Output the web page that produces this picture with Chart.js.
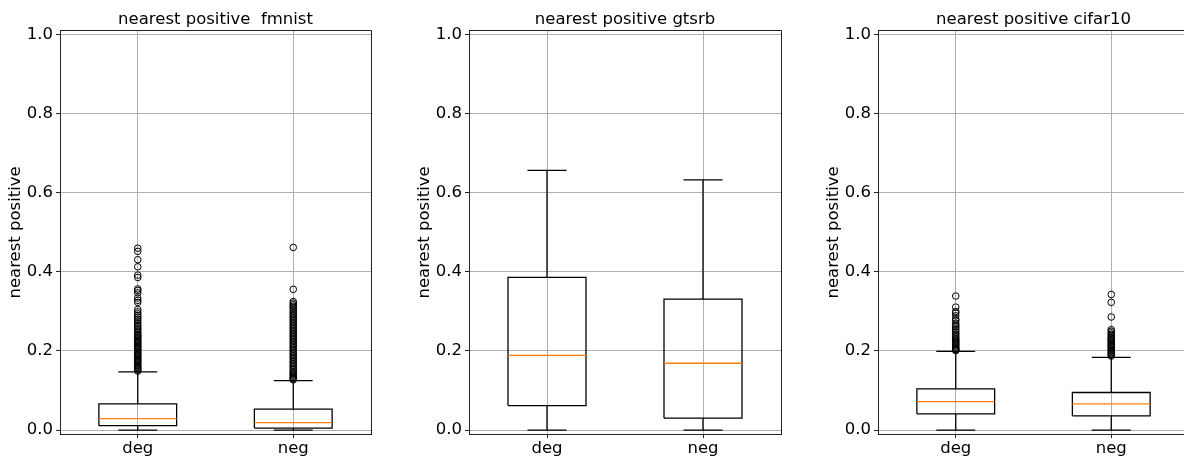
<!DOCTYPE html>
<html>
<head>
<meta charset="utf-8">
<script src="https://cdn.jsdelivr.net/npm/chart.js@4/dist/chart.umd.min.js"></script>
<style>
  html, body { margin:0; padding:0; background:#fff; width:1184px; height:457px; overflow:hidden; }
  canvas { position:absolute; top:0; }
</style>
</head>
<body>
<canvas id="c0" width="376" height="457" style="left:0px"></canvas>
<canvas id="c1" width="376" height="457" style="left:409px"></canvas>
<canvas id="c2" width="376" height="457" style="left:818px"></canvas>
<script>
// ---------- data ----------
const categories = ['deg', 'neg'];
const panelTitles = ['nearest positive  fmnist', 'nearest positive gtsrb', 'nearest positive cifar10'];
const yAxisLabel = 'nearest positive';
const yTicks = [0.0, 0.2, 0.4, 0.6, 0.8, 1.0];

// fmnist  [deg, neg]
const fmnistLow    = [0.000, 0.000];
const fmnistQ1     = [0.011, 0.005];
const fmnistMedian = [0.029, 0.019];
const fmnistQ3     = [0.066, 0.053];
const fmnistHigh   = [0.147, 0.125];
const fmnistDegOutliers = [0.460, 0.452, 0.431, 0.413, 0.392, 0.386, 0.357, 0.353, 0.347, 0.334, 0.328, 0.323,
  0.305, 0.299, 0.294, 0.289, 0.285, 0.280, 0.276, 0.271, 0.266, 0.262, 0.258, 0.254, 0.250, 0.246, 0.242,
  0.239, 0.236, 0.233, 0.230, 0.227, 0.224, 0.221, 0.218, 0.215, 0.212, 0.209, 0.206, 0.203, 0.200, 0.197,
  0.194, 0.191, 0.188, 0.185, 0.182, 0.179, 0.176, 0.173, 0.170, 0.167, 0.164, 0.161, 0.158, 0.155, 0.152, 0.149];
const fmnistNegOutliers = [0.462, 0.356, 0.325, 0.321, 0.317, 0.313, 0.309, 0.305, 0.300, 0.296, 0.292, 0.288,
  0.284, 0.280, 0.276, 0.272, 0.268, 0.264, 0.260, 0.256, 0.252, 0.248, 0.244, 0.240, 0.236, 0.232, 0.228,
  0.224, 0.220, 0.216, 0.212, 0.208, 0.204, 0.200, 0.196, 0.192, 0.188, 0.184, 0.180, 0.176, 0.172, 0.168,
  0.164, 0.160, 0.156, 0.152, 0.148, 0.145, 0.142, 0.139, 0.136, 0.133, 0.130, 0.127];

// gtsrb  [deg, neg]
const gtsrbLow    = [0.000, 0.000];
const gtsrbQ1     = [0.062, 0.030];
const gtsrbMedian = [0.189, 0.169];
const gtsrbQ3     = [0.386, 0.331];
const gtsrbHigh   = [0.657, 0.633];
const gtsrbDegOutliers = [];
const gtsrbNegOutliers = [];

// cifar10  [deg, neg]
const cifarLow    = [0.000, 0.000];
const cifarQ1     = [0.041, 0.036];
const cifarMedian = [0.072, 0.066];
const cifarQ3     = [0.104, 0.095];
const cifarHigh   = [0.199, 0.184];
const cifarDegOutliers = [0.339, 0.311, 0.300, 0.296, 0.289, 0.281, 0.277, 0.270, 0.265, 0.261, 0.256, 0.252,
  0.247, 0.243, 0.239, 0.235, 0.231, 0.228, 0.225, 0.222, 0.219, 0.216, 0.213, 0.210, 0.207, 0.205, 0.203, 0.201];
const cifarNegOutliers = [0.343, 0.323, 0.286, 0.254, 0.250, 0.246, 0.242, 0.238, 0.235, 0.232, 0.229, 0.226,
  0.223, 0.220, 0.217, 0.214, 0.211, 0.208, 0.205, 0.202, 0.199, 0.196, 0.193, 0.190, 0.187];

// ---------- drawing ----------
const FONT = 'DejaVu Sans';
const FS = 16.5;
const BOX_HALF = 0.25, CAP_HALF = 0.125;
const SPINE = '#222';

function line(points, color, width) {
  return { data: points, showLine: true, borderColor: color, borderWidth: width,
           pointRadius: 0, fill: false, tension: 0 };
}

function buildDatasets(low, q1, med, q3, high, outliers) {
  const ds = [];
  categories.forEach((c, i) => {
    const p = i + 1;
    ds.push({ data: outliers[i].map(v => ({ x: p, y: v })), showLine: false,
              pointStyle: 'circle', pointRadius: 3.3, pointBorderWidth: 1,
              pointBorderColor: '#000', pointBackgroundColor: 'rgba(0,0,0,0)' });
    ds.push(line([{x:p-BOX_HALF,y:med[i]},{x:p+BOX_HALF,y:med[i]}], '#ff7f0e', 1.3));
    ds.push(line([{x:p-BOX_HALF,y:q1[i]},{x:p+BOX_HALF,y:q1[i]},{x:p+BOX_HALF,y:q3[i]},
                  {x:p-BOX_HALF,y:q3[i]},{x:p-BOX_HALF,y:q1[i]}], '#000', 1.3));
    ds.push(line([{x:p,y:low[i]},{x:p,y:q1[i]}], '#000', 1.3));
    ds.push(line([{x:p,y:q3[i]},{x:p,y:high[i]}], '#000', 1.3));
    ds.push(line([{x:p-CAP_HALF,y:low[i]},{x:p+CAP_HALF,y:low[i]}], '#000', 1.3));
    ds.push(line([{x:p-CAP_HALF,y:high[i]},{x:p+CAP_HALF,y:high[i]}], '#000', 1.3));
  });
  return ds;
}

// top and right spines (left and bottom come from the axes' borders)
const framePlugin = {
  id: 'frame',
  afterDraw(chart) {
    const { ctx, chartArea: a } = chart;
    const top = Math.round(a.top - 0.5) + 0.5;
    const right = Math.round(a.right - 0.5) + 0.5;
    const left = Math.round(a.left - 0.5) + 0.5;
    const bottom = Math.round(a.bottom - 0.5) + 0.5;
    ctx.save();
    ctx.strokeStyle = SPINE;
    ctx.lineWidth = 1;
    ctx.beginPath();
    ctx.moveTo(left, top); ctx.lineTo(right, top); ctx.lineTo(right, bottom);
    ctx.stroke();
    ctx.restore();
  }
};

function makeChart(id, title, datasets) {
  new Chart(document.getElementById(id), {
    type: 'scatter',
    data: { datasets },
    plugins: [framePlugin],
    options: {
      responsive: false, animation: false, events: [],
      layout: { padding: { left: 0, right: 4, top: 0, bottom: 0 } },
      plugins: {
        legend: { display: false }, tooltip: { enabled: false },
        title: { display: true, text: title, fullSize: false, color: '#000',
                 font: { family: FONT, size: FS, weight: 'normal', lineHeight: 1.2 },
                 padding: { top: 10, bottom: 1 } }
      },
      scales: {
        x: {
          type: 'linear', min: 0.5, max: 2.5,
          afterBuildTicks: s => { s.ticks = categories.map((c, i) => ({ value: i + 1 })); },
          afterFit: s => { s.height = 23; },
          ticks: { color: '#000', padding: 1, maxRotation: 0,
                   font: { family: FONT, size: FS },
                   callback: v => categories[Math.round(v) - 1] },
          grid: { color: '#b0b0b0', lineWidth: 1, tickColor: SPINE, tickLength: 4 },
          border: { display: true, color: SPINE, width: 1 }
        },
        y: {
          type: 'linear', min: -0.01, max: 1.01,
          afterBuildTicks: s => { s.ticks = yTicks.map(v => ({ value: v })); },
          afterFit: s => { s.width = 60; },
          ticks: { color: '#000', padding: 3, font: { family: FONT, size: FS },
                   callback: v => Number(v).toFixed(1) },
          grid: { color: '#b0b0b0', lineWidth: 1, tickColor: SPINE, tickLength: 4 },
          border: { display: true, color: SPINE, width: 1 },
          title: { display: true, text: yAxisLabel, color: '#000',
                   font: { family: FONT, size: FS, lineHeight: 1.2 }, padding: { top: 6, bottom: 0 } }
        }
      }
    }
  });
}

makeChart('c0', panelTitles[0], buildDatasets(fmnistLow, fmnistQ1, fmnistMedian, fmnistQ3, fmnistHigh,
          [fmnistDegOutliers, fmnistNegOutliers]));
makeChart('c1', panelTitles[1], buildDatasets(gtsrbLow, gtsrbQ1, gtsrbMedian, gtsrbQ3, gtsrbHigh,
          [gtsrbDegOutliers, gtsrbNegOutliers]));
makeChart('c2', panelTitles[2], buildDatasets(cifarLow, cifarQ1, cifarMedian, cifarQ3, cifarHigh,
          [cifarDegOutliers, cifarNegOutliers]));
</script>
</body>
</html>
